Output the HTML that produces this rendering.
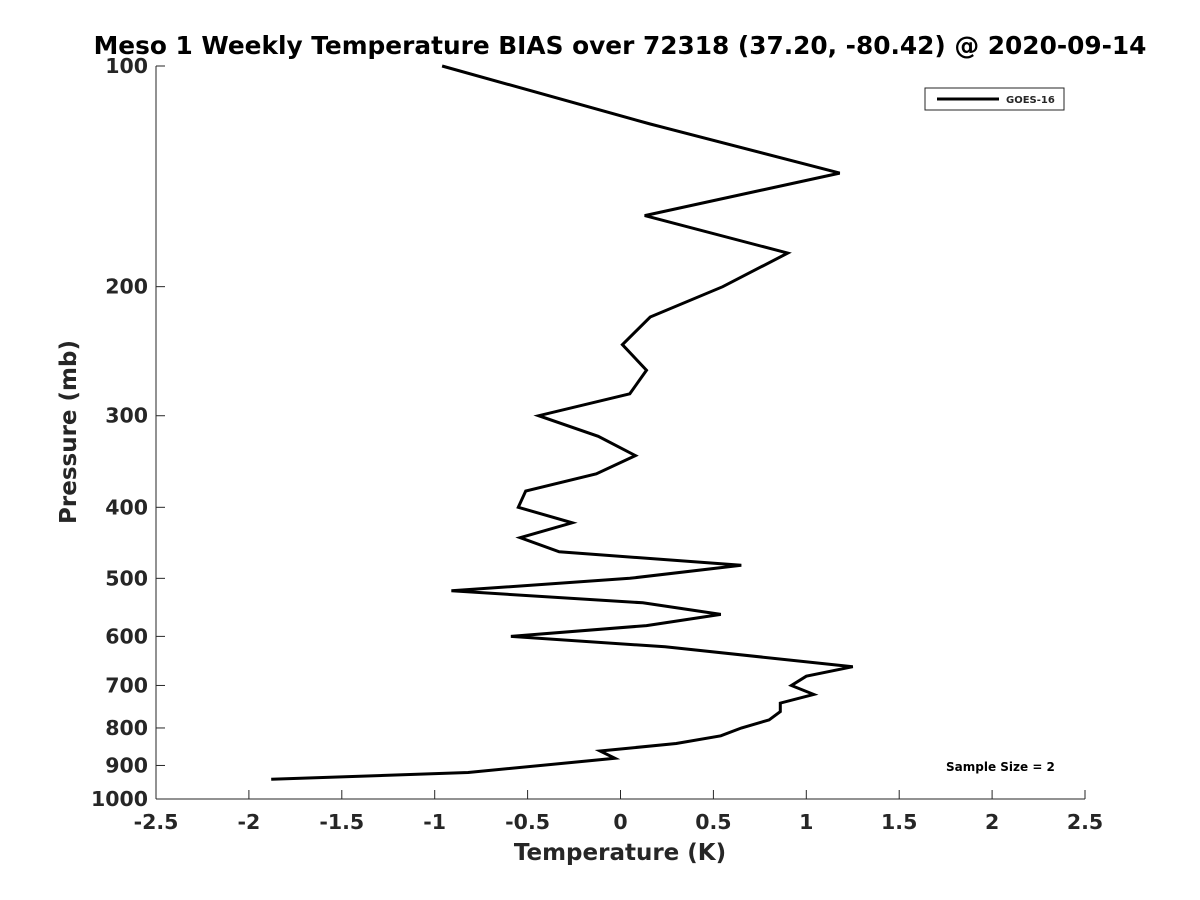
<!DOCTYPE html>
<html><head><meta charset="utf-8"><style>
html,body{margin:0;padding:0;background:#fff}
svg{display:block}
text{font-family:"DejaVu Sans","Liberation Sans",sans-serif;font-weight:bold;fill:#262626}
</style></head><body>
<svg id="chart" width="1200" height="900">
<text x="620" y="54" text-anchor="middle" font-size="24.8" style="fill:#000">Meso 1 Weekly Temperature BIAS over 72318 (37.20, -80.42) @ 2020-09-14</text>
<g id="axes"></g>
<path id="series" fill="none" stroke="#000" stroke-width="3" stroke-linejoin="miter"></path>
<g>
<rect x="925" y="88" width="139" height="22" fill="#fff" stroke="#262626" stroke-width="1"></rect>
<line x1="937" y1="99" x2="999" y2="99" stroke="#000" stroke-width="3"></line>
<text x="1006" y="103" font-size="10">GOES-16</text>
</g>
<text x="946" y="771" font-size="12" style="fill:#000">Sample Size = 2</text>
<text x="620" y="860" text-anchor="middle" font-size="23">Temperature (K)</text>
<text transform="translate(76,432) rotate(-90)" text-anchor="middle" font-size="23">Pressure (mb)</text>
</svg>
<script>
const xTicks = [-2.5,-2,-1.5,-1,-0.5,0,0.5,1,1.5,2,2.5];
const yTicks = [100,200,300,400,500,600,700,800,900,1000];
const pressures = [100,120,140,160,180,200,220,240,260,280,300,320,340,360,380,400,420,440,460,480,500,520,540,560,580,600,620,660,680,700,720,740,760,780,800,820,840,860,880,920,940];
const biasValues = [-0.96,0.16,1.18,0.13,0.9,0.55,0.16,0.01,0.14,0.05,-0.44,-0.12,0.08,-0.13,-0.51,-0.55,-0.26,-0.54,-0.33,0.65,0.05,-0.91,0.12,0.54,0.14,-0.59,0.24,1.25,1.0,0.92,1.04,0.86,0.86,0.8,0.65,0.54,0.3,-0.11,-0.03,-0.82,-1.88];

const L=156,R=1085,T=66,B=799;
function xs(v){return L+(v+2.5)/5*(R-L);}
function ys(p){return T+(Math.log10(p)-2)*(B-T);}
const NS="http://www.w3.org/2000/svg";
const axes=document.getElementById('axes');
function mk(tag,attrs){const e=document.createElementNS(NS,tag);for(const k in attrs)e.setAttribute(k,attrs[k]);axes.appendChild(e);return e;}
const xl=mk('line',{x1:L,y1:B,x2:R,y2:B,stroke:'#262626','stroke-width':1});


const yl=mk('line',{x1:L,y1:T,x2:L,y2:B,stroke:'#262626','stroke-width':1});


xTicks.forEach(v=>{
  const x=xs(v);
  mk('line',{x1:x,y1:B,x2:x,y2:B-9,stroke:'#262626','stroke-width':1});
  const t=mk('text',{x:x,y:B+30,'text-anchor':'middle','font-size':20.5});
  t.textContent=String(v);
  
  
});
yTicks.forEach(p=>{
  const y=ys(p);
  mk('line',{x1:L,y1:y,x2:L+9,y2:y,stroke:'#262626','stroke-width':1});
  const t=mk('text',{x:L-8,y:y+7,'text-anchor':'end','font-size':20.5});
  t.textContent=String(p);
  
  
});
let d='';
pressures.forEach((p,i)=>{d+=(i?'L':'M')+xs(biasValues[i]).toFixed(1)+','+ys(p).toFixed(1);});
document.getElementById('series').setAttribute('d',d);
</script>
</body></html>
